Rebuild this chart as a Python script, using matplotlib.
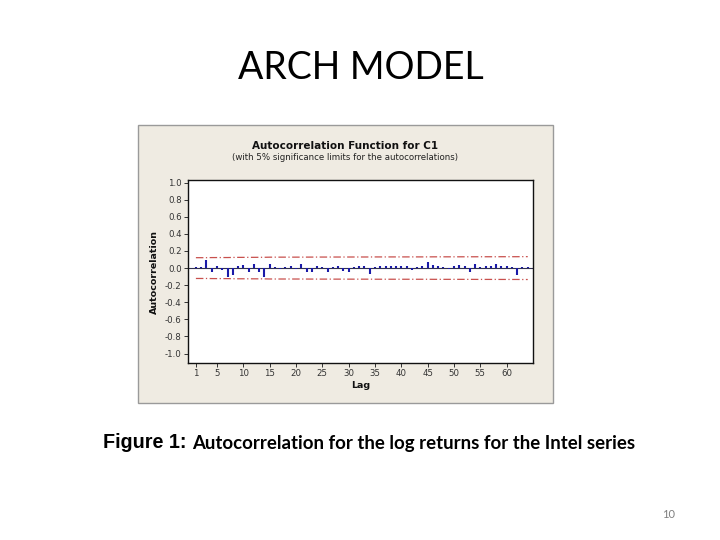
#!/usr/bin/env python3
"""Slide with a Minitab-style ACF chart of Intel log returns."""

from __future__ import annotations

import matplotlib

matplotlib.use("Agg")

import matplotlib.pyplot as plt
import numpy as np
from matplotlib.patches import Rectangle
from matplotlib.ticker import FuncFormatter

# sample autocorrelations, lags 1..64
lags = list(range(1, 65))
acf_values = [
    0.01, 0.01, 0.10, -0.05, 0.03, -0.02, -0.10, -0.08, 0.02, 0.04,
    -0.04, 0.05, -0.04, -0.11, 0.05, 0.01, -0.01, 0.01, 0.03, -0.01,
    0.05, -0.05, -0.05, 0.03, 0.01, -0.05, 0.01, 0.02, -0.03, -0.04,
    0.01, 0.03, 0.03, -0.07, 0.01, 0.02, 0.02, 0.03, 0.02, 0.03,
    0.02, -0.02, 0.01, 0.03, 0.07, 0.04, 0.02, 0.01, -0.01, 0.03,
    0.04, 0.02, -0.04, 0.05, 0.01, 0.02, 0.02, 0.05, 0.02, 0.03,
    0.01, -0.08, 0.01, 0.01,
]
n_obs = 260  # series length used for the significance limits

x_ticks = [1, 5, 10, 15, 20, 25, 30, 35, 40, 45, 50, 55, 60]
y_ticks = [-1.0, -0.8, -0.6, -0.4, -0.2, 0.0, 0.2, 0.4, 0.6, 0.8, 1.0]

slide_title = "ARCH MODEL"
chart_title = "Autocorrelation Function for C1"
chart_subtitle = "(with 5% significance limits for the autocorrelations)"
caption_head = "Figure 1:"
caption_body = "Autocorrelation for the log returns for the Intel series"
page_number = "10"

W, H = 720, 540


def fx(px: float) -> float:
    return px / W


def fy(py: float) -> float:
    return 1 - py / H


def bartlett_limits(acf: list[float], n: int) -> np.ndarray:
    r = np.asarray(acf)
    cum = np.concatenate([[0.0], np.cumsum(r[:-1] ** 2)])
    return 1.96 * np.sqrt((1 + 2 * cum) / n)


def main() -> None:
    fig = plt.figure(figsize=(7.2, 5.4), dpi=100)
    fig.patch.set_facecolor("white")

    fig.text(fx(361), fy(68), slide_title, ha="center", va="center",
             fontsize=27, family="Lato", color="black")

    # beige Minitab graph window
    fig.patches.append(Rectangle((fx(138), fy(403)), fx(553) - fx(138), fy(125) - fy(403),
                                 transform=fig.transFigure, facecolor="#efebe2",
                                 edgecolor="#9a9a9a", linewidth=1.0, zorder=-5))

    fig.text(fx(345), fy(146), chart_title, ha="center", va="center",
             fontsize=7.5, fontweight="bold", family="DejaVu Sans", color="#111111")
    fig.text(fx(345), fy(158), chart_subtitle, ha="center", va="center",
             fontsize=6.2, family="DejaVu Sans", color="#222222")

    ax = fig.add_axes([fx(188), fy(363), fx(533) - fx(188), fy(180) - fy(363)])
    ax.set_zorder(2)
    ax.set_facecolor("white")

    lim = bartlett_limits(acf_values, n_obs)
    ax.axhline(0, color="#303050", linewidth=0.8, zorder=1)
    ax.plot(lags, lim, color="#c8504d", linewidth=0.9, linestyle=(0, (6, 2, 1, 2)), zorder=2)
    ax.plot(lags, -lim, color="#c8504d", linewidth=0.9, linestyle=(0, (6, 2, 1, 2)), zorder=2)
    ax.vlines(lags, 0, acf_values, color="#1a1aa8", linewidth=1.5, zorder=3)

    ax.set_xlim(-0.5, 65)
    ax.set_ylim(-1.11, 1.03)
    ax.set_xticks(x_ticks)
    ax.set_yticks(y_ticks)
    ax.yaxis.set_major_formatter(FuncFormatter(lambda v, _: f"{v:.1f}".replace("-0.0", "0.0")))
    ax.tick_params(axis="both", labelsize=6.2, colors="#333333", length=3, width=0.7, pad=1.5)
    for spine in ax.spines.values():
        spine.set_linewidth(1.0)
        spine.set_color("#111111")

    ax.set_xlabel("Lag", fontsize=6.8, fontweight="bold", labelpad=2, color="#111111")
    ax.set_ylabel("Autocorrelation", fontsize=6.8, fontweight="bold", labelpad=4, color="#111111")

    fig.text(fx(103), fy(443), caption_head, ha="left", va="center",
             fontsize=14.2, fontweight="bold", family="Liberation Sans", color="black")
    fig.text(fx(192), fy(444), caption_body, ha="left", va="center",
             fontsize=13.4, fontweight="bold", family="Lato", color="black")

    fig.text(fx(669), fy(515), page_number, ha="center", va="center",
             fontsize=8, family="Lato", color="#7f7f7f")

    fig.savefig("out.png", dpi=100)
    plt.close(fig)


if __name__ == "__main__":
    main()
